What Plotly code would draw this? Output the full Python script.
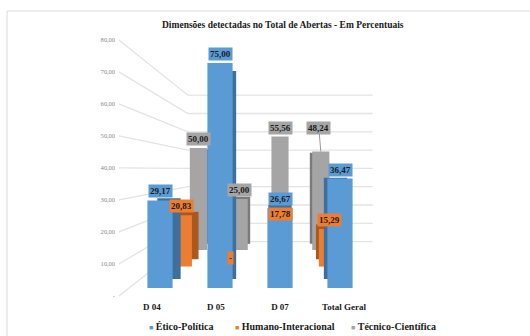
import plotly.graph_objects as go

# ---- data -------------------------------------------------------------
categories = ["D 04", "D 05", "D 07", "Total Geral"]
etico_politica = [29.17, 75.00, 26.67, 36.47]
humano_interacional = [20.83, 0.00, 17.78, 15.29]
tecnico_cientifica = [50.00, 25.00, 55.56, 48.24]
y_tick_values = [0, 10, 20, 30, 40, 50, 60, 70, 80]
y_tick_labels = ["-", "10,00", "20,00", "30,00", "40,00", "50,00", "60,00", "70,00", "80,00"]

# ---- simple perspective model for the pseudo-3D look ------------------
W, H = 530, 336
VP_X, VP_Y = 280.0, 169.0        # vanishing point (screen px)
FRONT_BASE = 288.0               # baseline of the front row (screen px)
PX_PER_UNIT = 3.0                # vertical pixels per percentage point, front row
CAT0_X, CAT_STEP = 160.0, 60.0   # category spacing in the front row
DEPTH = 0.925                    # scale of a bar's back face relative to its front face
K_WALL_FRONT, K_WALL_BACK = 1.067, 0.61
WALL_LEFT_X, WALL_RIGHT_X = 129.0, 432.0
BAR_WIDTH = 0.42

FONT = "Liberation Serif, Times New Roman, DejaVu Serif, serif"


def proj(X, Y, k):
    return VP_X + (X - VP_X) * k, VP_Y + (Y - VP_Y) * k


def layer_ranges(k):
    def cat_at(px):
        X = VP_X + (px - VP_X) / k
        return (X - CAT0_X) / CAT_STEP

    def val_at(py):
        Y = VP_Y + (py - VP_Y) / k
        return (FRONT_BASE - Y) / PX_PER_UNIT

    return [cat_at(0), cat_at(W)], [val_at(H), val_at(0)]


def fmt(v):
    return "-" if v == 0 else f"{v:.2f}".replace(".", ",")


# series from back to front: (name, values, face colour, side colour, depth scale)
series = [
    ("Técnico-Científica", tecnico_cientifica, "#a5a5a5", "#7b7b7b", 0.68),
    ("Humano-Interacional", humano_interacional, "#ed7d31", "#a9581f", 0.82),
    ("Ético-Política", etico_politica, "#5b9bd5", "#3f6f9c", 1.00),
]

fig = go.Figure()
layout = dict(
    width=W, height=H, autosize=False,
    margin=dict(l=0, r=0, t=0, b=0),
    paper_bgcolor="white", plot_bgcolor="rgba(0,0,0,0)",
    showlegend=False,
    xaxis=dict(range=[0, W], domain=[0, 1], visible=False, fixedrange=True),
    yaxis=dict(range=[H, 0], domain=[0, 1], visible=False, fixedrange=True),
)

# ---- gridlines on the left and back walls -----------------------------
gx, gy = [], []
for v in y_tick_values:
    Y = FRONT_BASE - PX_PER_UNIT * v
    for X, k in [(WALL_LEFT_X, K_WALL_FRONT), (WALL_LEFT_X, K_WALL_BACK), (WALL_RIGHT_X, K_WALL_BACK)]:
        px, py = proj(X, Y, k)
        gx.append(px)
        gy.append(py)
    gx.append(None)
    gy.append(None)
fig.add_trace(go.Scatter(x=gx, y=gy, mode="lines", line=dict(color="#e4e4e4", width=1.3),
                         hoverinfo="skip", xaxis="x", yaxis="y"))

annotations = []
axis_id = 2
xs = list(range(len(categories)))
label_arrow = {("Técnico-Científica", 3): (-2, -24)}

for name, values, color, side, k in series:
    # back face (gives the visible side of each bar), then the front face
    for kk, col, is_front in [(k * DEPTH, side, False), (k, color, True)]:
        xr, yr = layer_ranges(kk)
        layout[f"xaxis{axis_id}"] = dict(range=xr, domain=[0, 1], visible=False, overlaying="x",
                                         anchor=f"y{axis_id}", fixedrange=True)
        layout[f"yaxis{axis_id}"] = dict(range=yr, domain=[0, 1], visible=False, overlaying="y",
                                         anchor=f"x{axis_id}", fixedrange=True)
        fig.add_trace(go.Bar(x=xs, y=values, width=BAR_WIDTH, name=name,
                             marker=dict(color=col, line=dict(width=0)),
                             hoverinfo="skip", xaxis=f"x{axis_id}", yaxis=f"y{axis_id}"))
        if is_front:
            for i, v in enumerate(values):
                a = dict(xref=f"x{axis_id}", yref=f"y{axis_id}", x=i, y=v, text=f"<b>{fmt(v)}</b>",
                         font=dict(family=FONT, size=9, color="#1a1a1a"),
                         bgcolor=color, borderpad=1)
                if (name, i) in label_arrow:
                    ax, ay = label_arrow[(name, i)]
                    a.update(showarrow=True, ax=ax, ay=ay, arrowhead=0, arrowwidth=0.8,
                             arrowcolor="#7f7f7f", standoff=0)
                else:
                    a.update(showarrow=False, yanchor="bottom", yshift=2)
                annotations.append(a)
        axis_id += 1

# ---- axis labels: categories along the floor edge, values on the left wall
xr, yr = layer_ranges(K_WALL_FRONT)
layout[f"xaxis{axis_id}"] = dict(range=xr, domain=[0, 1], overlaying="x", anchor="free",
                                 position=1 - 300 / H, tickvals=xs, ticktext=categories,
                                 ticks="", showgrid=False, zeroline=False, showline=False,
                                 tickfont=dict(family=FONT, size=9, color="#1a1a1a", weight="bold"),
                                 fixedrange=True)
layout[f"yaxis{axis_id}"] = dict(range=yr, domain=[0, 1], overlaying="y", anchor="free",
                                 position=119 / W, side="left", tickvals=y_tick_values,
                                 ticktext=y_tick_labels, ticks="", showgrid=False, zeroline=False,
                                 showline=False, ticklabelstandoff=4,
                                 tickfont=dict(family=FONT, size=6.5, color="#8c8c8c"),
                                 fixedrange=True)
fig.add_trace(go.Scatter(x=[None], y=[None], mode="markers", hoverinfo="skip",
                         xaxis=f"x{axis_id}", yaxis=f"y{axis_id}"))

# ---- title and legend ---------------------------------------------------
annotations.append(dict(xref="paper", yref="paper", x=283 / W, y=1 - 25 / H,
                        xanchor="center", yanchor="middle", showarrow=False,
                        text="<b>Dimensões detectadas no Total de Abertas - Em Percentuais</b>",
                        font=dict(family=FONT, size=9.5, color="#1a1a1a")))
legend_x = {"Ético-Política": 147, "Humano-Interacional": 233, "Técnico-Científica": 349}
for name, values, color, side, k in series:
    annotations.append(dict(
        xref="paper", yref="paper", x=legend_x[name] / W, y=1 - 326 / H,
        xanchor="left", yanchor="middle", showarrow=False,
        text=f"<span style='color:{color};font-size:7px'>■</span> <b>{name}</b>",
        font=dict(family=FONT, size=10, color="#1a1a1a")))

layout["annotations"] = annotations
layout["shapes"] = [dict(type="rect", xref="x", yref="y", x0=7, y0=11, x1=W + 20, y1=H + 20,
                         line=dict(color="#d9d9d9", width=1), layer="below")]
fig.update_layout(**layout)
fig.write_html("out.html")
